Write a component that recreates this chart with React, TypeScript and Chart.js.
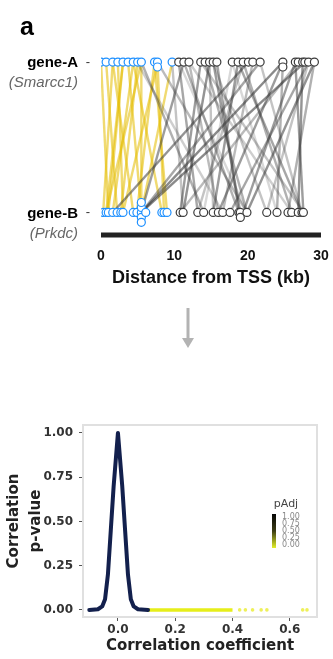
import React, { useEffect, useRef } from 'react';
import { Chart, registerables } from 'chart.js';
Chart.register(...registerables);

// ---------- Panel a data ----------
const panelLetter = 'a';
const geneNames = ['gene-A', 'gene-B'];
const geneAliases = ['(Smarcc1)', '(Prkdc)'];
const geneRows = [1, 0];
const distTicks = [0, 10, 20, 30];

// site positions (kb from TSS)
const geneAPositions = [0.0, 0.7, 1.6, 2.3, 3.0, 3.7, 4.4, 5.0, 5.5, 7.3, 7.7, 7.7, 9.7,
  10.6, 11.3, 12.0, 13.6, 14.2, 14.8, 15.3, 15.8, 17.9, 18.7, 19.4, 20.1, 20.7, 21.7,
  24.8, 24.8, 26.5, 26.9, 27.5, 27.8, 28.3, 29.1];
const geneBPositions = [0.3, 0.7, 1.0, 1.6, 2.2, 2.7, 3.0, 4.4, 4.9, 5.5, 5.5, 5.5, 5.5, 5.5, 6.1,
  8.3, 8.6, 9.0, 10.8, 11.2, 13.2, 14.0, 15.3, 16.0, 16.6, 17.6, 18.8, 19.0, 19.0, 19.9,
  22.6, 24.0, 25.5, 26.0, 26.9, 27.4, 27.6];

// links (A position -> B position)
const yellowFrom = [0.0, 0.7, 1.6, 1.6, 2.3, 3.0, 3.7, 4.4, 4.4, 5.0, 5.5, 5.5, 7.3, 7.8, 7.7, 9.7, 7.3, 3.0];
const yellowTo = [1.0, 2.2, 0.3, 4.4, 3.0, 0.7, 5.5, 1.6, 8.3, 2.7, 5.5, 0.7, 4.9, 3.0, 8.6, 5.5, 9.0, 1.0];

const grayFrom = [10.6, 11.3, 12.0, 13.6, 14.2, 14.8, 15.3, 15.8, 17.9, 18.7, 19.4, 20.1, 20.7, 21.7,
  24.8, 24.8, 26.5, 26.9, 27.5, 27.8, 28.3, 29.1, 5.5, 7.7, 9.7, 4.9, 13.6, 15.3, 17.9, 19.4,
  11.3, 21.7, 26.5, 28.3, 12.0, 18.7, 14.8, 10.6, 24.8, 29.1];
const grayTo = [13.2, 5.5, 16.0, 10.8, 19.9, 11.2, 22.6, 18.8, 14.0, 15.3, 26.0, 1.6, 16.6, 27.4,
  5.5, 24.0, 19.4, 10.8, 26.9, 5.5, 17.6, 25.5, 14.0, 19.9, 11.2, 16.6, 27.6, 19.0, 24.0, 13.2,
  18.8, 5.5, 27.6, 22.6, 26.0, 27.4, 15.3, 19.9, 16.0, 19.9];
const grayAlpha = [0.45, 0.5, 0.35, 0.5, 0.4, 0.55, 0.3, 0.45, 0.2, 0.5, 0.4, 0.55, 0.35, 0.3,
  0.6, 0.4, 0.5, 0.35, 0.55, 0.6, 0.45, 0.4, 0.4, 0.35, 0.3, 0.25, 0.3, 0.5, 0.2, 0.3,
  0.4, 0.45, 0.5, 0.3, 0.25, 0.45, 0.3, 0.2, 0.5, 0.55];

// ---------- Panel b data ----------
const corrX = [-0.10, -0.07, -0.055, -0.045, -0.035, -0.025, -0.015, 0.0, 0.015, 0.025, 0.035, 0.045, 0.055, 0.07, 0.105];
const corrP = [0.0, 0.004, 0.02, 0.06, 0.2, 0.45, 0.7, 1.0, 0.7, 0.45, 0.2, 0.06, 0.02, 0.004, 0.0];
const sigLineX = [0.105, 0.2, 0.3, 0.40];
const sigLineP = [0.0, 0.0, 0.0, 0.0];
const sigDotsX = [0.425, 0.445, 0.47, 0.5, 0.52, 0.645, 0.66];
const sigDotsP = [0, 0, 0, 0, 0, 0, 0];
const corrTicks = [0.0, 0.2, 0.4, 0.6];
const pTicks = [0.0, 0.25, 0.5, 0.75, 1.0];
const legendTitle = 'pAdj';
const legendLabels = ['1.00', '0.75', '0.50', '0.25', '0.00'];

const BLUE = '#1e90ff';
const DARK = '#3a3a3a';

function dodge(values: number[], base: number, stepUnits: number) {
  const seen: Record<string, number> = {};
  const order = [0, -1, 1, -2, 2, -3, 3];
  return values.map((v) => {
    const k = String(v);
    const n = seen[k] ?? 0;
    seen[k] = n + 1;
    return { x: v, y: base + order[n] * stepUnits };
  });
}

function TopChart() {
  const ref = useRef<HTMLCanvasElement>(null);
  useEffect(() => {
    const step = 0.033;
    const aPts = dodge(geneAPositions, geneRows[0], step);
    const bPts = dodge(geneBPositions, geneRows[1], step);
    const pointDs = (pts: { x: number; y: number }[]) => ({
      type: 'scatter' as const,
      data: pts,
      pointRadius: 4,
      pointBorderWidth: 1.2,
      pointBackgroundColor: '#ffffff',
      pointBorderColor: pts.map((p) => (p.x < 10 ? BLUE : DARK)),
      showLine: false,
    });
    const yellowDs = yellowFrom.map((a, i) => ({
      type: 'line' as const,
      data: [{ x: a, y: geneRows[0] }, { x: yellowTo[i], y: geneRows[1] }],
      borderColor: 'rgba(230,192,10,0.58)',
      borderWidth: 2.4,
      pointRadius: 0,
    }));
    const grayDs = grayFrom.map((a, i) => ({
      type: 'line' as const,
      data: [{ x: a, y: geneRows[0] }, { x: grayTo[i], y: geneRows[1] }],
      borderColor: `rgba(60,60,60,${grayAlpha[i]})`,
      borderWidth: 2.4,
      pointRadius: 0,
    }));

    const labelsPlugin = {
      id: 'geneLabels',
      afterDraw(chart: any) {
        const { ctx, chartArea } = chart;
        const ys = chart.scales.y;
        const xs = chart.scales.x;
        ctx.save();
        // axis bar spanning the distance range
        const x0 = xs.getPixelForValue(distTicks[0]);
        const x1 = xs.getPixelForValue(distTicks[distTicks.length - 1]);
        ctx.fillStyle = '#222';
        ctx.fillRect(x0, chartArea.bottom - 2.5, x1 - x0, 5);

        ctx.fillStyle = '#000';
        ctx.font = 'bold 25px "Liberation Sans"';
        ctx.textAlign = 'left';
        ctx.textBaseline = 'alphabetic';
        ctx.fillText(panelLetter, 20, 35);
        geneNames.forEach((name, i) => {
          const py = ys.getPixelForValue(geneRows[i]);
          ctx.textBaseline = 'middle';
          ctx.textAlign = 'right';
          ctx.fillStyle = '#000';
          ctx.font = 'bold 15px "Liberation Sans"';
          ctx.fillText(name, 78, py + 1);
          ctx.textAlign = 'center';
          ctx.font = '13px "Liberation Sans"';
          ctx.fillStyle = '#333';
          ctx.fillText('-', 88, py);
          ctx.textAlign = 'right';
          ctx.font = 'italic 15px "Liberation Sans"';
          ctx.fillStyle = '#666';
          ctx.fillText(geneAliases[i], 78, py + 21);
        });
        ctx.restore();
      },
    };

    const chart = new Chart(ref.current!, {
      type: 'scatter',
      data: { datasets: [pointDs(aPts), pointDs(bPts), ...grayDs, ...yellowDs] as any },
      options: {
        animation: false,
        responsive: false,
        events: [],
        layout: { padding: { left: 101, right: 12, top: 47, bottom: 0 } },
        plugins: { legend: { display: false }, tooltip: { enabled: false } },
        scales: {
          x: {
            type: 'linear',
            min: 0,
            max: 30,
            grid: { display: true, drawOnChartArea: false, drawTicks: true, tickLength: 10, color: 'rgba(0,0,0,0)' },
            border: { display: false },
            afterBuildTicks: (s: any) => {
              s.ticks = distTicks.map((v) => ({ value: v }));
            },
            afterFit: (s: any) => {
              s.height = 65;
            },
            ticks: {
              font: { family: 'Liberation Sans', size: 14, weight: 'bold' },
              color: '#111',
              padding: 3,
              maxRotation: 0,
            },
            title: {
              display: true,
              text: 'Distance from TSS (kb)',
              font: { family: 'Liberation Sans', size: 18, weight: 'bold' },
              color: '#111',
              padding: { top: 0, bottom: 11 },
            },
          },
          y: { type: 'linear', display: false, min: -0.15, max: 1.1 },
        },
      },
      plugins: [labelsPlugin],
    } as any);
    return () => chart.destroy();
  }, []);
  return <canvas ref={ref} width={333} height={300} style={{ position: 'absolute', left: 0, top: 0 }} />;
}

function BottomChart() {
  const ref = useRef<HTMLCanvasElement>(null);
  useEffect(() => {
    const frame = {
      id: 'frameLegend',
      beforeDatasetsDraw(chart: any) {
        const { ctx, chartArea: a } = chart;
        ctx.save();
        ctx.strokeStyle = '#e0e0e0';
        ctx.lineWidth = 2;
        ctx.strokeRect(a.left, a.top, a.right - a.left, a.bottom - a.top);
        ctx.restore();
      },
      afterDraw(chart: any) {
        const { ctx } = chart;
        ctx.save();
        ctx.fillStyle = '#444';
        ctx.font = '11px "DejaVu Sans"';
        ctx.textAlign = 'center';
        ctx.textBaseline = 'middle';
        ctx.fillText(legendTitle, 286, 144);
        const g = ctx.createLinearGradient(0, 154, 0, 188);
        g.addColorStop(0, '#050505');
        g.addColorStop(0.5, '#3c3d14');
        g.addColorStop(1, '#e3f02a');
        ctx.fillStyle = g;
        ctx.fillRect(272, 154, 4, 34);
        ctx.fillStyle = '#888';
        ctx.font = '8px "DejaVu Sans"';
        ctx.textAlign = 'left';
        legendLabels.forEach((t, i) => ctx.fillText(t, 282, 157 + i * 7));
        ctx.restore();
      },
    };
    const mk = (xs: number[], ys: number[]) => xs.map((x, i) => ({ x, y: ys[i] }));
    const chart = new Chart(ref.current!, {
      type: 'scatter',
      data: {
        datasets: [
          {
            data: mk(corrX, corrP),
            showLine: true,
            borderColor: '#13204d',
            borderWidth: 4,
            pointRadius: 0,
            borderJoinStyle: 'round',
            borderCapStyle: 'round',
          },
          {
            data: mk(sigLineX, sigLineP),
            showLine: true,
            borderColor: '#e6ee1a',
            borderWidth: 3.5,
            pointRadius: 0,
          },
          {
            data: mk(sigDotsX, sigDotsP),
            showLine: false,
            pointRadius: 1.8,
            pointBorderWidth: 0,
            pointBackgroundColor: '#eef05a',
          },
        ],
      },
      options: {
        animation: false,
        responsive: false,
        events: [],
        layout: { padding: { left: 0, right: 16, top: 65, bottom: 0 } },
        plugins: { legend: { display: false }, tooltip: { enabled: false } },
        scales: {
          x: {
            type: 'linear',
            min: -0.122,
            max: 0.695,
            grid: { display: true, drawOnChartArea: false, drawTicks: true, tickLength: 4, color: '#555' },
            border: { display: false },
            afterBuildTicks: (s: any) => {
              s.ticks = corrTicks.map((v) => ({ value: v }));
            },
            afterFit: (s: any) => {
              s.height = 42;
            },
            ticks: {
              font: { family: 'DejaVu Sans', size: 12, weight: 'bold' },
              color: '#333',
              padding: 2,
              maxRotation: 0,
              callback: (v: any) => Number(v).toFixed(1),
            },
            title: {
              display: true,
              text: 'Correlation coefficient',
              font: { family: 'DejaVu Sans', size: 15, weight: 'bold' },
              color: '#222',
              padding: { top: 0, bottom: 4 },
            },
          },
          y: {
            type: 'linear',
            min: -0.04,
            max: 1.045,
            grid: { display: true, drawOnChartArea: false, drawTicks: true, tickLength: 4, color: '#555' },
            border: { display: false },
            afterBuildTicks: (s: any) => {
              s.ticks = pTicks.map((v) => ({ value: v }));
            },
            afterFit: (s: any) => {
              s.width = 83;
            },
            ticks: {
              font: { family: 'DejaVu Sans', size: 12, weight: 'bold' },
              color: '#333',
              padding: 6,
              callback: (v: any) => Number(v).toFixed(2),
            },
            title: {
              display: true,
              text: ['Correlation', 'p-value'],
              font: { family: 'DejaVu Sans', size: 15, weight: 'bold', lineHeight: 1.45 },
              color: '#222',
              padding: { top: 3, bottom: 0 },
            },
          },
        },
      },
      plugins: [frame],
    } as any);
    return () => chart.destroy();
  }, []);
  return <canvas ref={ref} width={333} height={299} style={{ position: 'absolute', left: 0, top: 360 }} />;
}

function Arrow() {
  return (
    <svg width={333} height={60} style={{ position: 'absolute', left: 0, top: 300 }}>
      <line x1={188} y1={8} x2={188} y2={40} stroke="#b3b3b3" strokeWidth={3} />
      <polygon points="182,38 194,38 188,48" fill="#b3b3b3" />
    </svg>
  );
}

export default function App() {
  return (
    <div style={{ position: 'absolute', left: 0, top: 0, width: 333, height: 659, background: '#fff' }}>
      <TopChart />
      <Arrow />
      <BottomChart />
    </div>
  );
}
